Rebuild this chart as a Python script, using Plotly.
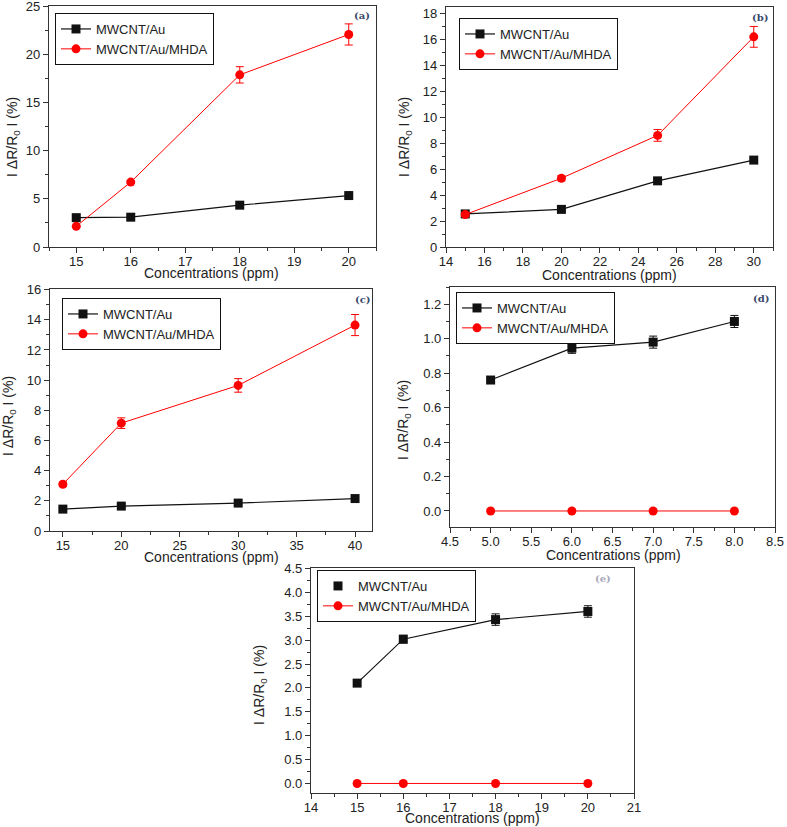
import plotly.graph_objects as go

# ---------------- data ----------------
conc_a = [15, 16, 18, 20]
au_a = [3.05, 3.1, 4.35, 5.35]
au_a_err = [0.1, 0.1, 0.15, 0.2]
mhda_a = [2.15, 6.75, 17.9, 22.1]
mhda_a_err = [0.1, 0.15, 0.85, 1.1]

conc_b = [15, 20, 25, 30]
au_b = [2.55, 2.9, 5.1, 6.7]
au_b_err = [0.1, 0.1, 0.15, 0.15]
mhda_b = [2.5, 5.3, 8.6, 16.2]
mhda_b_err = [0.15, 0.2, 0.45, 0.8]

conc_c = [15, 20, 30, 40]
au_c = [1.45, 1.65, 1.85, 2.15]
au_c_err = [0.08, 0.08, 0.1, 0.1]
mhda_c = [3.1, 7.15, 9.65, 13.65]
mhda_c_err = [0.15, 0.35, 0.45, 0.7]

conc_d = [5, 6, 7, 8]
au_d = [0.76, 0.945, 0.98, 1.1]
au_d_err = [0.015, 0.03, 0.035, 0.035]
mhda_d = [0, 0, 0, 0]

conc_e = [15, 16, 18, 20]
au_e = [2.1, 3.02, 3.43, 3.6]
au_e_err = [0.04, 0.08, 0.12, 0.12]
mhda_e = [0, 0, 0, 0]

label_au = "MWCNT/Au"
label_mhda = "MWCNT/Au/MHDA"
xtitle = "Concentrations (ppm)"
ytitle = "I ΔR/R<sub>0</sub> I (%)"

W, H = 787, 827
FONT = "Liberation Sans, Arial, sans-serif"
BLACK = "#111111"
RED = "#ff0000"


def fx(px):
    return px / W


def fy(py):
    return 1 - py / H


# panel boxes in pixels: x0, x1, y0(top), y1(bottom)
panels = {
    "a": dict(box=(49, 376, 6, 247), xr=[14.5, 20.5], yr=[0, 25.06], xd=1, xm=0.5, yd=5, ym=2.5,
              xf="", yf="", leg=(55, 13), lab=(362, 15), xt=(212, 273), yt=(13, 137)),
    "b": dict(box=(446, 773, 7, 247), xr=[14, 31], yr=[0, 18.5], xd=2, xm=1, yd=2, ym=1,
              xf="", yf="", leg=(459, 18), lab=(760, 17), xt=(609, 275), yt=(405, 137)),
    "c": dict(box=(50, 372, 289, 531), xr=[13.9, 41.45], yr=[0, 16.04], xd=5, xm=2.5, yd=2, ym=1,
              xf="", yf="", leg=(62, 298), lab=(363, 299), xt=(212, 557), yt=(9, 416)),
    "d": dict(box=(450, 775, 287, 527), xr=[4.5, 8.5], yr=[-0.093, 1.3], xd=0.5, xm=0.25, yd=0.2, ym=0.1,
              xf=".1f", yf=".1f", leg=(456, 292), lab=(761, 298), xt=(613, 555), yt=(404, 420)),
    "e": dict(box=(311, 634, 568, 793), xr=[14, 21], yr=[-0.2, 4.51], xd=1, xm=0.5, yd=0.5, ym=0.25,
              xf="", yf=".1f", leg=(317, 570), lab=(603, 578), xt=(472, 818), yt=(260, 685)),
}

series = {
    "a": (conc_a, au_a, au_a_err, mhda_a, mhda_a_err),
    "b": (conc_b, au_b, au_b_err, mhda_b, mhda_b_err),
    "c": (conc_c, au_c, au_c_err, mhda_c, mhda_c_err),
    "d": (conc_d, au_d, au_d_err, mhda_d, None),
    "e": (conc_e, au_e, au_e_err, mhda_e, None),
}

fig = go.Figure()
layout = dict(
    template="none",
    width=W, height=H,
    margin=dict(l=0, r=0, t=0, b=0, pad=0),
    paper_bgcolor="white", plot_bgcolor="white",
    font=dict(family=FONT, size=13, color="#222"),
    annotations=[],
)

for i, key in enumerate(["a", "b", "c", "d", "e"]):
    p = panels[key]
    x0, x1, y0, y1 = p["box"]
    sfx = "" if i == 0 else str(i + 1)
    xa, ya = "x" + sfx, "y" + sfx
    lg = "legend" + sfx
    conc, au, au_err, mh, mh_err = series[key]

    fig.add_trace(go.Scatter(
        x=conc, y=au, name=label_au, mode="lines+markers",
        line=dict(color=BLACK, width=1.2),
        marker=dict(symbol="square", size=9, color=BLACK),
        error_y=dict(type="data", array=au_err, color=BLACK, thickness=1, width=4),
        xaxis=xa, yaxis=ya, legend=lg, showlegend=(key != "e"),
    ))
    if key == "e":
        fig.add_trace(go.Scatter(
            x=[None], y=[None], name=label_au, mode="markers",
            marker=dict(symbol="square", size=9, color=BLACK),
            xaxis=xa, yaxis=ya, legend=lg, showlegend=True,
        ))
    mh_kw = {}
    if mh_err is not None:
        mh_kw["error_y"] = dict(type="data", array=mh_err, color=RED, thickness=1, width=4)
    fig.add_trace(go.Scatter(
        x=conc, y=mh, name=label_mhda, mode="lines+markers",
        line=dict(color=RED, width=1),
        marker=dict(symbol="circle", size=9, color=RED),
        xaxis=xa, yaxis=ya, legend=lg, **mh_kw,
    ))

    axis_common = dict(
        showline=True, mirror=True, linecolor="#333", linewidth=1.2,
        ticks="outside", ticklen=5, tickwidth=1, tickcolor="#333",
        showgrid=False, zeroline=False, automargin=False,
        ticklabeloverflow="allow",
        tickfont=dict(family=FONT, size=13, color="#222"),
    )
    layout["xaxis" + sfx] = dict(
        axis_common, domain=[fx(x0), fx(x1)], range=p["xr"], anchor=ya,
        dtick=p["xd"], tick0=0, tickformat=p["xf"], ticklabelstandoff=-3,
        minor=dict(dtick=p["xm"], tick0=0, ticks="outside", ticklen=3, tickcolor="#333", showgrid=False),
    )
    layout["yaxis" + sfx] = dict(
        axis_common, domain=[fy(y1), fy(y0)], range=p["yr"], anchor=xa,
        dtick=p["yd"], tick0=0, tickformat=p["yf"],
        minor=dict(dtick=p["ym"], tick0=0, ticks="outside", ticklen=3, tickcolor="#333", showgrid=False),
    )
    lx, ly = p["leg"]
    layout[lg] = dict(
        x=fx(lx), y=fy(ly), xanchor="left", yanchor="top",
        bordercolor="#111", borderwidth=1, bgcolor="white",
        font=dict(family=FONT, size=13, color="#222"),
        tracegroupgap=0, itemwidth=30,
    )
    tx, ty = p["xt"]
    layout["annotations"].append(dict(
        x=fx(tx), y=fy(ty), xref="paper", yref="paper", text=xtitle, showarrow=False,
        font=dict(family=FONT, size=14, color="#222"), xanchor="center", yanchor="middle",
    ))
    vx, vy = p["yt"]
    layout["annotations"].append(dict(
        x=fx(vx), y=fy(vy), xref="paper", yref="paper", text=ytitle, showarrow=False,
        textangle=-90, font=dict(family=FONT, size=14, color="#222"),
        xanchor="center", yanchor="middle",
    ))
    bx, by = p["lab"]
    layout["annotations"].append(dict(
        x=fx(bx), y=fy(by), xref="paper", yref="paper", text="<b>(" + key + ")</b>",
        showarrow=False, font=dict(family="DejaVu Serif, serif", size=10,
                                   color="#3a4a6a" if key != "e" else "#aab"),
        xanchor="center", yanchor="middle",
    ))

fig.update_layout(**layout)
fig.write_html(
    "out.html",
    config={"displayModeBar": False},
    post_script="document.body.style.margin='0px';document.body.style.padding='0px';"
                "document.body.style.overflow='hidden';",
)
